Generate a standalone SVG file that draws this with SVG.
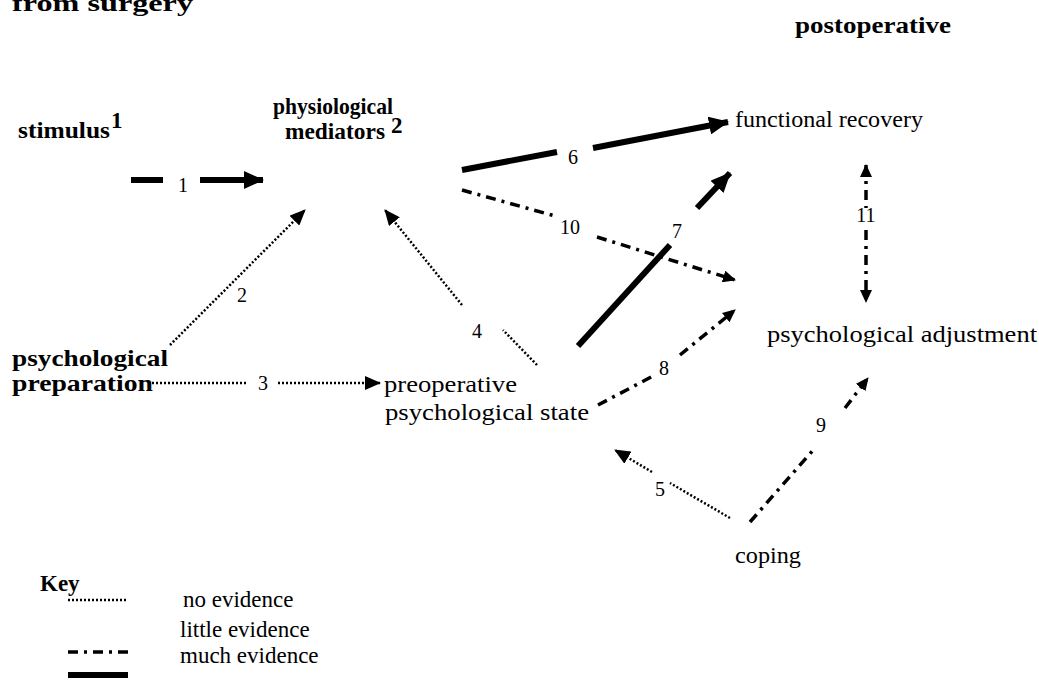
<svg xmlns="http://www.w3.org/2000/svg" width="1039" height="699" viewBox="0 0 1039 699">
<style>
.b{font-family:"Liberation Serif",serif;font-weight:bold;font-size:23px;fill:#000}
.r{font-family:"Liberation Serif",serif;font-size:23px;fill:#000}
.n{font-family:"Liberation Serif",serif;font-size:20px;fill:#000}
.thick{stroke:#000;stroke-width:6;fill:none;stroke-linecap:butt}
.dot{stroke:#000;stroke-width:2.5;fill:none;stroke-dasharray:2 2}
.dd{stroke:#000;stroke-width:3.5;fill:none;stroke-dasharray:10 6 3 6}
</style>
<defs>
<marker id="hL" markerUnits="userSpaceOnUse" markerWidth="20" markerHeight="18" refX="19" refY="9" orient="auto"><path d="M0,0 L20,9 L0,18 Z" fill="#000"/></marker>
<marker id="hM" markerUnits="userSpaceOnUse" markerWidth="16" markerHeight="14" refX="15" refY="7" orient="auto"><path d="M0,0 L16,7 L0,14 Z" fill="#000"/></marker>
<marker id="hS" markerUnits="userSpaceOnUse" markerWidth="13" markerHeight="12" refX="12" refY="6" orient="auto-start-reverse"><path d="M0,0 L13,6 L0,12 Z" fill="#000"/></marker>
</defs>
<rect width="1039" height="699" fill="#fff"/>
<g id="title">
<text class="b" x="12" y="11" font-size="30" textLength="181" lengthAdjust="spacingAndGlyphs">from surgery</text>
<text class="b" x="795" y="33" textLength="156" lengthAdjust="spacingAndGlyphs">postoperative</text>
</g>
<g id="stimulus"><text class="b" x="18" y="138" textLength="92" lengthAdjust="spacingAndGlyphs">stimulus</text><text class="b" x="111" y="128" font-size="13">1</text></g>
<g id="mediators"><text class="b" x="273" y="114" font-size="24" textLength="120" lengthAdjust="spacingAndGlyphs">physiological</text><text class="b" x="285" y="139" font-size="24" textLength="100" lengthAdjust="spacingAndGlyphs">mediators</text><text class="b" x="391" y="133" font-size="14">2</text></g>
<g id="functional"><text class="r" x="735" y="127" textLength="188" lengthAdjust="spacingAndGlyphs">functional recovery</text></g>
<g id="adjustment"><text class="r" x="767" y="342" textLength="270" lengthAdjust="spacingAndGlyphs">psychological adjustment</text></g>
<g id="preparation"><text class="b" x="12" y="366" textLength="156" lengthAdjust="spacingAndGlyphs">psychological</text><text class="b" x="12" y="391" textLength="141" lengthAdjust="spacingAndGlyphs">preparation</text></g>
<g id="preop"><text class="r" x="384" y="392" textLength="133" lengthAdjust="spacingAndGlyphs">preoperative</text><text class="r" x="385" y="420" textLength="204" lengthAdjust="spacingAndGlyphs">psychological state</text></g>
<g id="coping"><text class="r" x="735" y="563" textLength="66" lengthAdjust="spacingAndGlyphs">coping</text></g>
<g id="connectors">
<line class="thick" x1="131" y1="180" x2="163" y2="180"/>
<line class="thick" x1="200" y1="180" x2="263" y2="180" marker-end="url(#hL)"/>
<text class="n" x="183" y="192" text-anchor="middle">1</text>
<line class="thick" x1="462" y1="170" x2="557" y2="152"/>
<text class="n" x="573" y="164" text-anchor="middle">6</text>
<line class="thick" x1="593" y1="148" x2="728" y2="122" marker-end="url(#hL)"/>
<line class="dd" x1="462" y1="190" x2="555" y2="216"/>
<text class="n" x="570" y="234" text-anchor="middle">10</text>
<line class="dd" x1="597" y1="237" x2="735" y2="280" marker-end="url(#hS)"/>
<line class="thick" x1="578" y1="346" x2="670" y2="245"/>
<text class="n" x="677" y="238" text-anchor="middle">7</text>
<line class="thick" x1="697" y1="208" x2="730" y2="173" marker-end="url(#hL)"/>
<line class="dd" x1="866" y1="165" x2="866" y2="208" marker-start="url(#hS)"/>
<text class="n" x="866" y="222" text-anchor="middle">11</text>
<line class="dd" x1="866" y1="230" x2="866" y2="302" marker-end="url(#hS)"/>
<line class="dot" x1="170" y1="345" x2="305" y2="210" marker-end="url(#hM)"/>
<text class="n" x="242" y="302" text-anchor="middle">2</text>
<line class="dot" x1="537" y1="365" x2="503" y2="330"/>
<text class="n" x="477" y="338" text-anchor="middle">4</text>
<line class="dot" x1="462" y1="305" x2="385" y2="210" marker-end="url(#hM)"/>
<line class="dot" x1="152" y1="383" x2="248" y2="383"/>
<text class="n" x="263" y="390" text-anchor="middle">3</text>
<line class="dot" x1="278" y1="383" x2="380" y2="383" marker-end="url(#hM)"/>
<line class="dd" x1="598" y1="405" x2="655" y2="375"/>
<text class="n" x="664" y="375" text-anchor="middle">8</text>
<line class="dd" x1="680" y1="355" x2="735" y2="310" marker-end="url(#hS)"/>
<line class="dot" x1="730" y1="518" x2="670" y2="483"/>
<text class="n" x="660" y="496" text-anchor="middle">5</text>
<line class="dot" x1="652" y1="472" x2="615" y2="450" marker-end="url(#hM)"/>
<line class="dd" x1="750" y1="522" x2="815" y2="448"/>
<text class="n" x="821" y="432" text-anchor="middle">9</text>
<line class="dd" x1="845" y1="408" x2="868" y2="378" marker-end="url(#hS)"/>
</g>
<g id="key">
<text class="b" x="40" y="591" font-size="22">Key</text>
<line class="dot" x1="68" y1="600" x2="128" y2="600"/>
<text class="r" x="183" y="607" font-size="21">no evidence</text>
<text class="r" x="180" y="637" font-size="21">little evidence</text>
<line class="dd" x1="68" y1="652" x2="128" y2="652"/>
<text class="r" x="180" y="663" font-size="21">much evidence</text>
<line class="thick" x1="68" y1="675" x2="128" y2="675"/>
</g>
</svg>
